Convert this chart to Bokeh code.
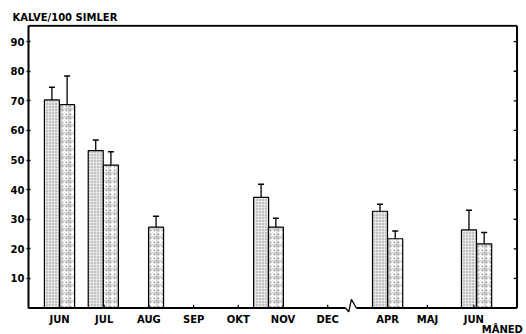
from bokeh.plotting import figure
from bokeh.models import (ColumnDataSource, Range1d, FixedTicker,
                          Whisker, TeeHead)
from bokeh.core.properties import value
from bokeh.embed import file_html
from bokeh.resources import INLINE

# ---- data ----
month_labels = ["JUN", "JUL", "AUG", "SEP", "OKT", "NOV", "DEC", "APR", "MAJ", "JUN"]
month_pos = [0, 1, 2, 3, 4, 5, 6, 7.34, 8.23, 9.27]

a_time = [-0.17, 0.81, 4.51, 7.17, 9.16]
a_value = [70.3, 53.2, 37.4, 32.7, 26.4]
a_err = [4.3, 3.6, 4.4, 2.4, 6.6]

b_time = [0.17, 1.15, 2.16, 4.84, 7.51, 9.50]
b_value = [68.7, 48.3, 27.3, 27.3, 23.4, 21.7]
b_err = [9.7, 4.5, 3.7, 3.0, 2.6, 3.8]

y_ticks = [10, 20, 30, 40, 50, 60, 70, 80, 90]
break_x = [6.40, 6.47, 6.53, 6.64]
break_y = [0, -1.3, 2.9, 0]

FONT = "DejaVu Sans"
BAR_W = 0.336
Y_TOP = 95.4
X0, X1 = -0.694, 10.447
X_RIGHT = 10.235
Y0, Y1 = -8.95, 95.8
LABEL_Y = -3.75
UNIT_Y = -7.4

src_a = ColumnDataSource(dict(x=a_time, top=a_value,
                              lo=[v - e for v, e in zip(a_value, a_err)],
                              hi=[v + e for v, e in zip(a_value, a_err)]))
src_b = ColumnDataSource(dict(x=b_time, top=b_value,
                              lo=[v - e for v, e in zip(b_value, b_err)],
                              hi=[v + e for v, e in zip(b_value, b_err)]))

p = figure(width=526, height=334, output_backend="svg", toolbar_location=None,
           x_range=Range1d(X0, X1), y_range=Range1d(Y0, Y1),
           min_border_left=28, min_border_right=0, min_border_top=24,
           min_border_bottom=0, outline_line_color=None)
p.grid.visible = False
p.xaxis.visible = False
p.background_fill_color = "white"

p.title.text = "KALVE/100 SIMLER"
p.title.align = "left"
p.title.offset = -16
p.title.standoff = 4
p.title.text_font = FONT
p.title.text_font_style = "bold"
p.title.text_font_size = "10px"
p.title.text_line_height = 1.0
p.title.text_color = "black"

# bars: series A (fine stipple)
p.vbar(x="x", top="top", bottom=0, width=BAR_W, source=src_a,
       fill_color="#e6e6e6", line_color="black", line_width=1.2,
       hatch_pattern=".", hatch_scale=3, hatch_weight=0.8, hatch_color="#8a8a8a")
# bars: series B (dots + dashed grid)
p.vbar(x="x", top="top", bottom=0, width=BAR_W, source=src_b,
       fill_color="white", line_color=None,
       hatch_pattern=".", hatch_scale=4, hatch_weight=0.8, hatch_color="#a0a0a0")
p.vbar(x="x", top="top", bottom=0, width=BAR_W, source=src_b,
       fill_color=None, line_color="black", line_width=1.2,
       hatch_pattern="+", hatch_scale=8, hatch_weight=0.6, hatch_color="#777777")

for src in (src_a, src_b):
    w = Whisker(base="x", lower="lo", upper="hi", source=src,
                line_color="black", line_width=1.3,
                lower_head=TeeHead(size=6, line_width=1.5, line_color="black"),
                upper_head=TeeHead(size=6, line_width=1.5, line_color="black"))
    p.add_layout(w)

# baseline with break
p.line(x=[X0, break_x[0]], y=[0, 0], line_color="black", line_width=2)
p.line(x=break_x, y=break_y, line_color="black", line_width=1.3)
p.line(x=[break_x[-1], X_RIGHT], y=[0, 0], line_color="black", line_width=2)
# month ticks pointing up
p.segment(x0=month_pos, y0=[0] * len(month_pos), x1=month_pos, y1=[1.1] * len(month_pos),
          line_color="black", line_width=1.2)
# right and top border, right ticks pointing inward
p.line(x=[X_RIGHT, X_RIGHT], y=[0, Y_TOP], line_color="black", line_width=2)
p.line(x=[X0, X_RIGHT], y=[Y_TOP, Y_TOP], line_color="black", line_width=2)
p.segment(x0=[X_RIGHT] * len(y_ticks), y0=y_ticks,
          x1=[X_RIGHT - 0.075] * len(y_ticks), y1=y_ticks,
          line_color="black", line_width=1.3)

# month labels under the baseline
p.text(x=month_pos, y=[LABEL_Y] * len(month_pos), text=month_labels,
       text_font=value(FONT), text_font_style="bold", text_font_size="10px",
       text_color="black", text_align="center", text_baseline="middle")
p.text(x=[X1 - 0.08], y=[UNIT_Y], text=["MÅNED"],
       text_font=value(FONT), text_font_style="bold", text_font_size="10px",
       text_color="black", text_align="right", text_baseline="middle")

# left axis
p.yaxis.ticker = FixedTicker(ticks=y_ticks)
p.yaxis.bounds = (0, Y_TOP)
p.yaxis.axis_line_width = 2
p.yaxis.axis_line_color = "black"
p.yaxis.major_tick_in = 2
p.yaxis.major_tick_out = 2
p.yaxis.major_tick_line_width = 1.3
p.yaxis.minor_tick_line_color = None
p.yaxis.major_label_standoff = 2
p.yaxis.major_label_text_font = FONT
p.yaxis.major_label_text_font_style = "bold"
p.yaxis.major_label_text_font_size = "10px"
p.yaxis.major_label_text_color = "black"

open("out.html", "w").write(file_html(p, INLINE))
